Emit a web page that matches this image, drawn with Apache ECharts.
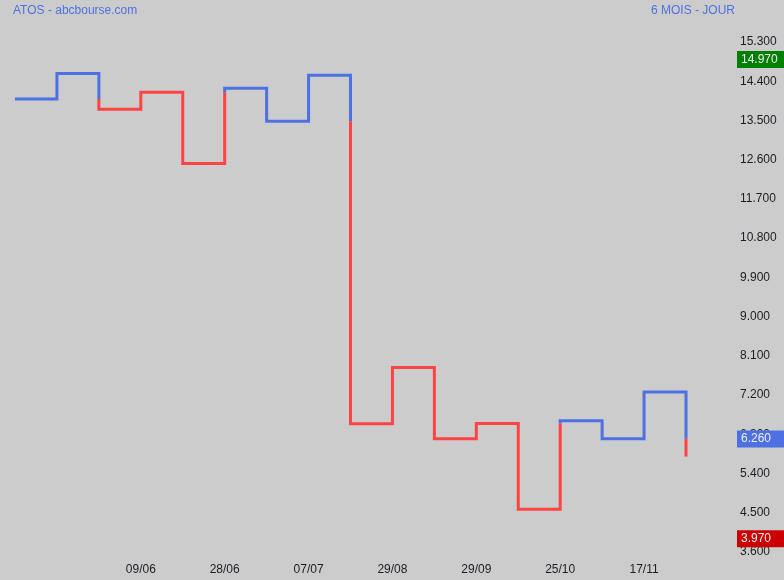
<!DOCTYPE html>
<html>
<head>
<meta charset="utf-8">
<script src="https://cdn.jsdelivr.net/npm/echarts@6/dist/echarts.min.js"></script>
<style>
  html, body { margin: 0; padding: 0; background: #cccccc; }
  #chart { width: 784px; height: 580px; }
</style>
</head>
<body>
<div id="chart"></div>
<script>
// Kagi reversal levels, in order (one per vertical segment)
const levels = [13.99, 14.58, 13.76, 14.15, 12.51, 14.24, 13.48, 14.54, 6.54, 7.83, 6.20, 6.55, 4.58, 6.61, 6.20, 7.27, 5.79];
// date labels under each position
const dateLabels = ['', '', '', '09/06', '', '28/06', '', '07/07', '', '29/08', '', '29/09', '', '25/10', '', '17/11', ''];
// price tags on the right axis: high, last, low
const tagHigh = 14.97;
const tagLast = 6.26;
const tagLow = 3.97;
// axis ticks
const yMin = 3.6, yMax = 15.3, yStep = 0.9;

const BLUE = '#4d71e3';
const RED = '#ff4343';
const FONT = 'Liberation Sans, Arial, sans-serif';

// Build Kagi runs: blue (yang) / red (yin), switching when crossing previous shoulder / waist
const runs = [];
let yang = true;
let cur = { color: BLUE, pts: [[0, levels[0]]] };
runs.push(cur);
for (let i = 1; i < levels.length; i++) {
  const prev = levels[i - 1], next = levels[i];
  cur.pts.push([i, prev]);
  const ref = i >= 2 ? levels[i - 2] : null;
  if (next > prev && !yang && ref !== null && next > ref) {
    cur.pts.push([i, ref]);
    yang = true;
    cur = { color: BLUE, pts: [[i, ref]] };
    runs.push(cur);
  } else if (next < prev && yang && ref !== null && next < ref) {
    cur.pts.push([i, ref]);
    yang = false;
    cur = { color: RED, pts: [[i, ref]] };
    runs.push(cur);
  }
  cur.pts.push([i, next]);
}

function tag(v, bg) {
  return {
    yAxis: v,
    lineStyle: { color: 'rgba(0,0,0,0)', width: 1, type: 'solid' },
    label: {
      show: true,
      position: 'end',
      distance: 51,
      offset: [0, 3],
      opacity: 1,
      formatter: () => v.toFixed(3),
      backgroundColor: bg,
      color: '#f0f0f0',
      fontSize: 12,
      fontFamily: FONT,
      width: 44,
      padding: [3, 10, 2, 4]
    }
  };
}

const series = runs.map((r, k) => ({
  type: 'line',
  data: r.pts,
  symbol: 'none',
  showSymbol: false,
  silent: true,
  animation: false,
  clip: false,
  z: 3,
  lineStyle: { color: r.color, width: 3, join: 'miter', cap: 'butt' }
}));

series[0].markLine = {
  silent: true,
  animation: false,
  symbol: 'none',
  z: 10,
  data: [tag(tagHigh, '#008000'), tag(tagLast, BLUE), tag(tagLow, '#cc0000')]
};

const chart = echarts.init(document.getElementById('chart'), null, { renderer: 'canvas' });
chart.setOption({
  backgroundColor: '#cccccc',
  animation: false,
  title: [
    { text: 'ATOS - abcbourse.com', left: 13, top: 5, padding: 0,
      textStyle: { color: BLUE, fontSize: 12, fontWeight: 'normal', fontFamily: FONT } },
    { text: '6 MOIS - JOUR', right: 49, top: 5, padding: 0,
      textStyle: { color: BLUE, fontSize: 12, fontWeight: 'normal', fontFamily: FONT } }
  ],
  grid: { left: 15, top: 42, width: 671, height: 510 },
  xAxis: {
    type: 'value',
    min: 0,
    max: levels.length - 1,
    interval: 1,
    axisLine: { show: false },
    axisTick: { show: false },
    splitLine: { show: false },
    axisLabel: {
      margin: 12,
      color: '#1c1c24',
      fontSize: 12,
      fontFamily: FONT,
      showMinLabel: true,
      showMaxLabel: true,
      formatter: (v) => dateLabels[Math.round(v)] || ''
    }
  },
  yAxis: {
    type: 'value',
    position: 'right',
    min: yMin,
    max: yMax,
    interval: yStep,
    axisLine: { show: false },
    axisTick: { show: false },
    splitLine: { show: false },
    axisLabel: {
      margin: 54,
      align: 'left',
      color: '#1c1c24',
      fontSize: 12,
      fontFamily: FONT,
      formatter: (v) => v.toFixed(3)
    }
  },
  series: series
});
</script>
</body>
</html>
